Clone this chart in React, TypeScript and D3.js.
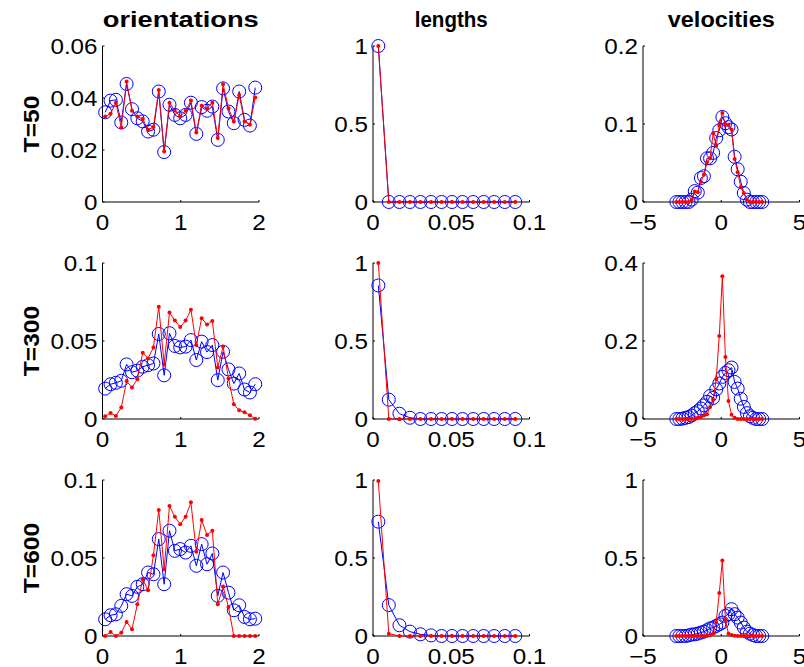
import * as d3 from 'd3';

// bin centres
const orientX = [0.034, 0.103, 0.171, 0.240, 0.308, 0.377, 0.445, 0.514, 0.582, 0.651, 0.719, 0.788, 0.856, 0.925, 0.993, 1.062, 1.130, 1.199, 1.267, 1.336, 1.404, 1.473, 1.541, 1.610, 1.678, 1.747, 1.815, 1.884, 1.952];
const lengthX = [0.0034, 0.0101, 0.0169, 0.0236, 0.0303, 0.0371, 0.0438, 0.0505, 0.0572, 0.0640, 0.0707, 0.0774, 0.0842, 0.0909];
const velX = [-2.87, -2.674, -2.478, -2.282, -2.086, -1.89, -1.694, -1.498, -1.302, -1.106, -0.91, -0.714, -0.518, -0.322, -0.126, 0.07, 0.266, 0.462, 0.658, 0.854, 1.05, 1.246, 1.442, 1.638, 1.834, 2.03, 2.226, 2.422, 2.618];

// orientations
const orientRed50 = [0.0329, 0.0339, 0.0382, 0.0287, 0.0463, 0.0351, 0.0329, 0.0319, 0.0278, 0.0288, 0.0431, 0.0194, 0.0382, 0.0351, 0.0329, 0.0351, 0.0390, 0.0267, 0.0370, 0.0359, 0.0382, 0.0246, 0.0453, 0.0361, 0.0310, 0.0412, 0.0310, 0.0297, 0.0402];
const orientBlue50 = [0.0345, 0.0390, 0.0393, 0.0306, 0.0454, 0.0357, 0.0322, 0.0310, 0.0271, 0.0278, 0.0425, 0.0192, 0.0374, 0.0335, 0.0322, 0.0335, 0.0382, 0.0262, 0.0365, 0.0351, 0.0367, 0.0239, 0.0437, 0.0348, 0.0303, 0.0425, 0.0316, 0.0294, 0.0440];
const orientRed300 = [0.0017, 0.0039, 0.0019, 0.0073, 0.0243, 0.0202, 0.0255, 0.0425, 0.0388, 0.0459, 0.0719, 0.0350, 0.0682, 0.0631, 0.0590, 0.0631, 0.0700, 0.0474, 0.0646, 0.0605, 0.0629, 0.0330, 0.0464, 0.0260, 0.0094, 0.0056, 0.0043, 0.0024, 0.0002];
const orientBlue300 = [0.0195, 0.0223, 0.0232, 0.0245, 0.0350, 0.0300, 0.0310, 0.0335, 0.0345, 0.0356, 0.0545, 0.0280, 0.0550, 0.0468, 0.0459, 0.0464, 0.0506, 0.0378, 0.0496, 0.0429, 0.0474, 0.0249, 0.0431, 0.0318, 0.0227, 0.0292, 0.0189, 0.0170, 0.0223];
const orientRed600 = [0, 0.0026, 0, 0.0021, 0.0090, 0.0043, 0.0203, 0.0364, 0.0293, 0.0518, 0.0807, 0.0428, 0.0833, 0.0764, 0.0717, 0.0764, 0.0857, 0.0540, 0.0743, 0.0647, 0.0675, 0.0203, 0.0317, 0.0186, 0, 0, 0, 0, 0];
const orientBlue600 = [0.0107, 0.0133, 0.0139, 0.0193, 0.0268, 0.0257, 0.0315, 0.0332, 0.0407, 0.0396, 0.0621, 0.0332, 0.0675, 0.0546, 0.0557, 0.0535, 0.0578, 0.0450, 0.0589, 0.0460, 0.0529, 0.0257, 0.0407, 0.0278, 0.0165, 0.0197, 0.0122, 0.0107, 0.0111];

// lengths
const lengthRed50 = [1, 0, 0, 0, 0, 0, 0, 0, 0, 0, 0, 0, 0, 0];
const lengthBlue50 = [1, 0, 0, 0, 0, 0, 0, 0, 0, 0, 0, 0, 0, 0];
const lengthRed300 = [1, 0, 0, 0, 0, 0, 0, 0, 0, 0, 0, 0, 0, 0];
const lengthBlue300 = [0.856, 0.124, 0.034, 0.008, 0, 0, 0, 0, 0, 0, 0, 0, 0, 0];
const lengthRed600 = [0.993, 0.015, 0, 0, 0, 0, 0, 0, 0, 0, 0, 0, 0, 0];
const lengthBlue600 = [0.733, 0.198, 0.069, 0.028, 0.011, 0.004, 0, 0, 0, 0, 0, 0, 0, 0];

// velocities
const velRed50 = [0, 0, 0, 0, 0, 0.003, 0.0136, 0.0124, 0.026, 0.035, 0.051, 0.056, 0.088, 0.072, 0.098, 0.114, 0.099, 0.099, 0.093, 0.055, 0.038, 0.019, 0.0115, 0.003, 0, 0, 0, 0, 0];
const velBlue50 = [0, 0, 0, 0, 0, 0.003, 0.014, 0.012, 0.0307, 0.033, 0.056, 0.056, 0.063, 0.082, 0.092, 0.109, 0.101, 0.096, 0.093, 0.058, 0.042, 0.026, 0.0115, 0.003, 0, 0, 0, 0, 0];
const velRed300 = [0, 0, 0, 0, 0, 0, 0, 0.003, 0.005, 0.009, 0.012, 0.031, 0.05, 0.102, 0.213, 0.366, 0.159, 0.046, 0.011, 0.003, 0, 0, 0, 0, 0, 0, 0, 0, 0];
const velBlue300 = [0, 0, 0.001, 0.003, 0.005, 0.009, 0.015, 0.02, 0.027, 0.035, 0.044, 0.059, 0.054, 0.076, 0.091, 0.108, 0.118, 0.125, 0.132, 0.095, 0.078, 0.052, 0.031, 0.015, 0.007, 0.003, 0, 0, 0];
const velRed600 = [0, 0, 0, 0, 0, 0, 0, 0, 0, 0, 0.002, 0.006, 0.015, 0.09, 0.275, 0.484, 0.103, 0.015, 0.006, 0.002, 0, 0, 0, 0, 0, 0, 0, 0, 0];
const velBlue600 = [0, 0, 0, 0, 0.004, 0.009, 0.011, 0.015, 0.022, 0.028, 0.037, 0.049, 0.054, 0.065, 0.075, 0.086, 0.129, 0.14, 0.172, 0.14, 0.118, 0.086, 0.054, 0.028, 0.015, 0.006, 0, 0, 0];

const colTitles = ['orientations', 'lengths', 'velocities'];
const rowLabels = ['T=50', 'T=300', 'T=600'];

const xDomains = [[0, 2], [0, 0.1], [-5, 5]];
const xTickVals = [[0, 1, 2], [0, 0.05, 0.1], [-5, 0, 5]];
const yDomains = [
  [[0, 0.06], [0, 1], [0, 0.2]],
  [[0, 0.1], [0, 1], [0, 0.4]],
  [[0, 0.1], [0, 1], [0, 1]],
];
const yTickVals = [
  [[0, 0.02, 0.04, 0.06], [0, 0.5, 1], [0, 0.1, 0.2]],
  [[0, 0.05, 0.1], [0, 0.5, 1], [0, 0.2, 0.4]],
  [[0, 0.05, 0.1], [0, 0.5, 1], [0, 0.5, 1]],
];
const xs = [orientX, lengthX, velX];
const redSeries = [
  [orientRed50, lengthRed50, velRed50],
  [orientRed300, lengthRed300, velRed300],
  [orientRed600, lengthRed600, velRed600],
];
const blueSeries = [
  [orientBlue50, lengthBlue50, velBlue50],
  [orientBlue300, lengthBlue300, velBlue300],
  [orientBlue600, lengthBlue600, velBlue600],
];

const W = 804;
const H = 667;
const colLeft = [102.5, 373, 643];
const rowTop = [46, 263, 480];
const axW = 156.5;
const axH = 156;
const titleWidths = [156, 73, 107];
const FONT = '"Liberation Sans", Arial, Helvetica, sans-serif';
const STRETCH = 1.1; // glyphs in the original are a bit wide

const fmt = (v: number) => String(v).replace('-', '\u2212');

function Panel({ r, c }: { r: number; c: number }) {
  const left = colLeft[c];
  const top = rowTop[r];
  const x = d3.scaleLinear().domain(xDomains[c]).range([left, left + axW]);
  const y = d3.scaleLinear().domain(yDomains[r][c]).range([top + axH, top]);
  const bottom = top + axH;
  const xv = xs[c];
  const red = redSeries[r][c];
  const blue = blueSeries[r][c];
  const line = d3.line<number>().x((_, i) => x(xv[i])).y(d => y(d));

  return (
    <g>
      <line x1={left} x2={left + axW} y1={bottom} y2={bottom} stroke="#000" strokeWidth={1} />
      <line x1={left} x2={left} y1={top} y2={bottom} stroke="#000" strokeWidth={1} />
      {xTickVals[c].map(t => (
        <g key={'x' + t}>
          <line x1={x(t)} x2={x(t)} y1={bottom} y2={bottom - 2} stroke="#000" />
          <text transform={`translate(${x(t)},${bottom + 28}) scale(${STRETCH},1)`} textAnchor="middle" fontSize={22} fontFamily={FONT}>{fmt(t)}</text>
        </g>
      ))}
      {yTickVals[r][c].map(t => (
        <g key={'y' + t}>
          <line x1={left} x2={left + 2} y1={y(t)} y2={y(t)} stroke="#000" />
          <text transform={`translate(${left - 5},${y(t) + 8}) scale(${STRETCH},1)`} textAnchor="end" fontSize={22} fontFamily={FONT}>{fmt(t)}</text>
        </g>
      ))}
      <path d={line(blue) || ''} fill="none" stroke="#0000ff" strokeWidth={1} />
      {blue.map((d, i) => (
        <circle key={'b' + i} cx={x(xv[i])} cy={y(d)} r={6.5} fill="none" stroke="#0000ff" strokeWidth={1} />
      ))}
      <path d={line(red) || ''} fill="none" stroke="#ff0000" strokeWidth={1} />
      {red.map((d, i) => (
        <circle key={'r' + i} cx={x(xv[i])} cy={y(d)} r={2} fill="#ff0000" />
      ))}
    </g>
  );
}

export default function App() {
  return (
    <svg width={W} height={H} style={{ position: 'absolute', left: 0, top: 0, background: '#fff' }}>
      <rect width={W} height={H} fill="#fff" />
      {colTitles.map((t, c) => (
        <text key={t} x={colLeft[c] + axW / 2 - titleWidths[c] / 2} y={27} textLength={titleWidths[c]} lengthAdjust="spacingAndGlyphs" fontSize={22} fontWeight="bold" fontFamily={FONT}>{t}</text>
      ))}
      {rowLabels.map((t, r) => (
        <text key={t} transform={`translate(39,${rowTop[r] + axH / 2}) rotate(-90) scale(1.12,1)`} textAnchor="middle" fontSize={22} fontWeight="bold" fontFamily={FONT}>{t}</text>
      ))}
      {[0, 1, 2].map(r => [0, 1, 2].map(c => <Panel key={r + '-' + c} r={r} c={c} />))}
    </svg>
  );
}
